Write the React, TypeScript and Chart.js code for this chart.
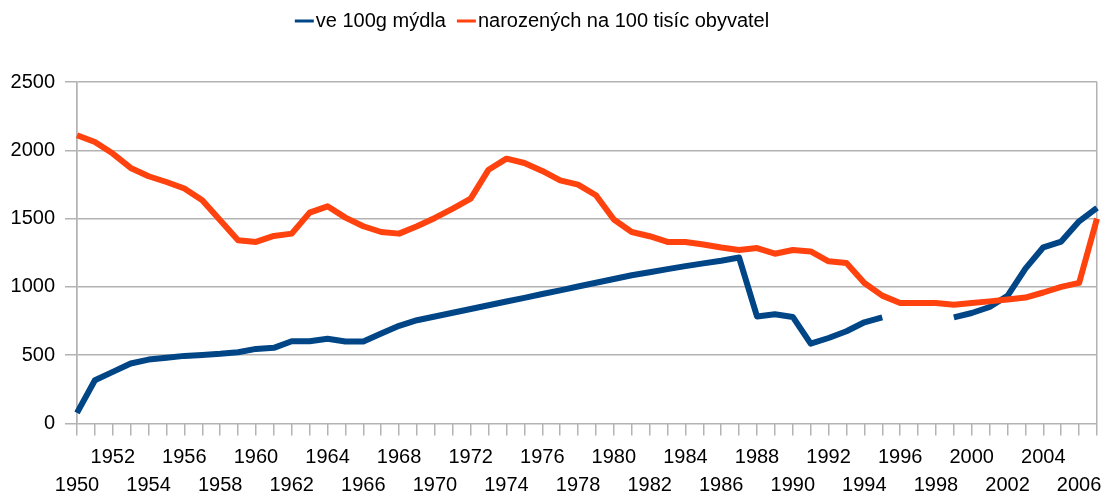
import React, { useEffect, useRef } from "react";
import { Chart, registerables } from "chart.js";

Chart.register(...registerables);

const years: string[] = [
  "1950", "1951", "1952", "1953", "1954", "1955", "1956", "1957", "1958", "1959",
  "1960", "1961", "1962", "1963", "1964", "1965", "1966", "1967", "1968", "1969",
  "1970", "1971", "1972", "1973", "1974", "1975", "1976", "1977", "1978", "1979",
  "1980", "1981", "1982", "1983", "1984", "1985", "1986", "1987", "1988", "1989",
  "1990", "1991", "1992", "1993", "1994", "1995", "1996", "1997", "1998", "1999",
  "2000", "2001", "2002", "2003", "2004", "2005", "2006", "2007",
];

const soapLabel = "ve 100g mýdla";
const soapValues: (number | null)[] = [
  78, 317, 378, 439, 468, 482, 495, 502, 510, 522,
  546, 554, 602, 602, 620, 600, 600, 659, 715, 756,
  783, 811, 838, 866, 893, 920, 948, 975, 1003, 1030,
  1058, 1085, 1107, 1130, 1152, 1172, 1192, 1215, 784, 800,
  780, 585, 626, 675, 741, 777, null, null, null, 777,
  809, 853, 935, 1134, 1290, 1332, 1480, 1578,
];

const birthsLabel = "narozených na 100 tisíc obyvatel";
const birthsValues: number[] = [
  2110, 2061, 1976, 1871, 1810, 1768, 1720, 1634, 1488, 1341,
  1329, 1373, 1390, 1544, 1590, 1507, 1444, 1402, 1390, 1444,
  1505, 1573, 1646, 1858, 1939, 1907, 1849, 1780, 1749, 1671,
  1493, 1402, 1371, 1329, 1329, 1310, 1288, 1270, 1284, 1243,
  1270, 1260, 1187, 1175, 1029, 936, 882, 882, 882, 870,
  882, 894, 907, 922, 959, 1000, 1029, 1500,
];

const yTicks: number[] = [0, 500, 1000, 1500, 2000, 2500];

const BLUE = "#004586";
const ORANGE = "#ff420e";
const GRID = "#b3b3b3";
const FONT = '"Liberation Sans", Arial, sans-serif';

const legendPlugin = {
  id: "customLegend",
  afterDraw(chart: any) {
    const ctx = chart.ctx as CanvasRenderingContext2D;
    ctx.save();
    ctx.font = `20px ${FONT}`;
    ctx.textBaseline = "middle";
    ctx.textAlign = "left";
    const items = chart.data.datasets.map((d: any) => ({ text: d.label, color: d.borderColor }));
    const markW = 19;
    const gap = 2;
    const itemGap = 11;
    const widths = items.map((it: any) => markW + gap + ctx.measureText(it.text).width);
    const total = widths.reduce((a: number, b: number) => a + b, 0) + itemGap * (items.length - 1);
    const centerX = 532;
    const cy = 21;
    let x = centerX - total / 2;
    items.forEach((it: any, i: number) => {
      ctx.fillStyle = it.color;
      ctx.fillRect(x, cy - 1.5, markW, 3);
      ctx.fillStyle = "#000";
      ctx.fillText(it.text, x + markW + gap, cy);
      x += widths[i] + itemGap;
    });
    ctx.restore();
  },
};

export default function App() {
  const ref = useRef<HTMLCanvasElement | null>(null);
  useEffect(() => {
    document.body.style.margin = "0";
    if (!ref.current) return;
    Chart.defaults.font.family = FONT;
    const lastIndex = years.length - 1;
    const chart = new Chart(ref.current, {
      type: "line",
      data: {
        labels: years,
        datasets: [
          {
            label: soapLabel,
            data: soapValues,
            borderColor: BLUE,
            backgroundColor: BLUE,
            borderWidth: 6,
            pointRadius: 0,
            tension: 0,
            spanGaps: false,
            borderJoinStyle: "round",
            order: 2,
          },
          {
            label: birthsLabel,
            data: birthsValues,
            borderColor: ORANGE,
            backgroundColor: ORANGE,
            borderWidth: 6,
            pointRadius: 0,
            tension: 0,
            borderJoinStyle: "round",
            order: 1,
          },
        ],
      },
      options: {
        responsive: false,
        animation: false,
        layout: { padding: { top: 82, right: 10, left: 0, bottom: 0 } },
        plugins: {
          legend: { display: false },
          tooltip: { enabled: false },
        },
        scales: {
          x: {
            type: "category",
            offset: false,
            afterFit: (scale: any) => {
              scale.height = 72.5;
            },
            grid: {
              color: (c: any) => (c.index === 0 || c.index === lastIndex ? GRID : "rgba(0,0,0,0)"),
              tickColor: GRID,
              tickLength: 12,
              lineWidth: 1.5,
            },
            border: { display: false },
            ticks: {
              autoSkip: false,
              maxRotation: 0,
              minRotation: 0,
              padding: 8,
              color: "#000",
              font: { size: 20, lineHeight: 1.4 },
              callback: (_v: any, i: number) => {
                const y = years[i];
                const n = parseInt(y, 10) - 1950;
                if (n % 2 !== 0) return "";
                return n % 4 === 0 ? ["", y] : [y, ""];
              },
            },
          },
          y: {
            min: 0,
            max: 2500,
            afterFit: (scale: any) => {
              scale.width = 77;
            },
            afterBuildTicks: (scale: any) => {
              scale.ticks = yTicks.map((v) => ({ value: v }));
            },
            grid: {
              color: GRID,
              tickColor: GRID,
              tickLength: 12,
              lineWidth: 1.5,
            },
            border: { color: GRID, width: 1.5 },
            ticks: {
              padding: 10,
              color: "#000",
              font: { size: 20 },
              callback: (v: any) => String(v),
            },
          },
        },
      },
      plugins: [legendPlugin],
    });
    return () => chart.destroy();
  }, []);
  return (
    <div style={{ width: 1107, height: 496 }}>
      <canvas ref={ref} width={1107} height={496} />
    </div>
  );
}
